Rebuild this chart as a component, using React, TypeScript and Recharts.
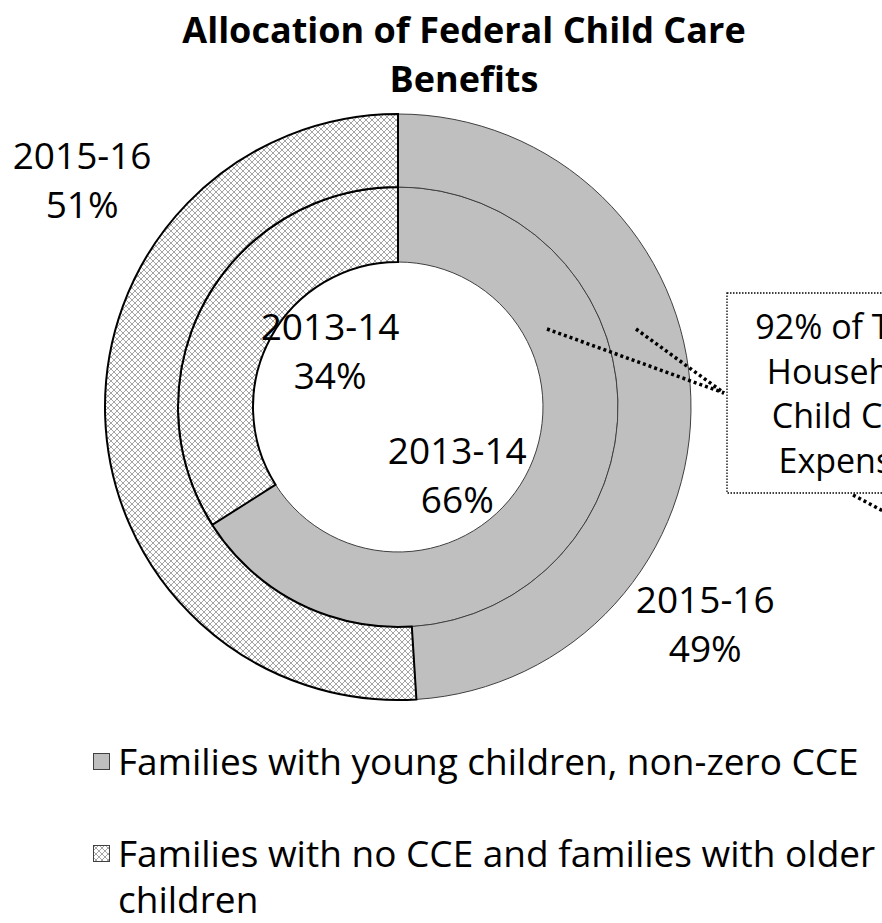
import React from 'react';
import { PieChart, Pie, Cell } from 'recharts';

// categories and values (percent of benefits)
const categories = [
  'Families with young children, non-zero CCE',
  'Families with no CCE and families with older children',
];
const years = ['2013-14', '2015-16'];
const values2013 = [66, 34];
const values2015 = [49, 51];
const calloutLines = ['92% of Total', 'Household', 'Child Care', 'Expenses'];

const innerData = categories.map((name, i) => ({ name, value: values2013[i], year: years[0] }));
const outerData = categories.map((name, i) => ({ name, value: values2015[i], year: years[1] }));

const FONT = '"Open Sans", "Noto Sans", sans-serif';
const CX = 398;
const CY = 407;
const RAD = Math.PI / 180;

// labels were moved by hand in the original: angle shift from slice mid, radius
const outerLabelPos = [
  { shift: -37, r: 376 },
  { shift: -37.5, r: 389 },
];
const innerLabelPos = [
  { shift: -20, r: 90 },
  { shift: -10.7, r: 88 },
];

const fills = ['#BFBFBF', 'url(#hatch)'];
const strokes = ['#404040', '#000000'];
const strokeWidths = [1, 2];

const makeLabel = (pos: { shift: number; r: number }[]) => (props: any) => {
  const { cx, cy, midAngle, index, payload, value } = props;
  const p = pos[index];
  const a = (midAngle + p.shift) * RAD;
  const x = cx + p.r * Math.cos(a);
  const y = cy - p.r * Math.sin(a);
  return (
    <text x={x} y={y} textAnchor="middle" fontFamily={FONT} fontSize={37} fill="#000">
      <tspan x={x} dy={-11}>{payload.year}</tspan>
      <tspan x={x} dy={49}>{value}%</tspan>
    </text>
  );
};

const App: React.FC = () => {
  return (
    <div style={{ position: 'absolute', left: 0, top: 0, width: 882, height: 923, background: '#fff', overflow: 'hidden' }}>
      <svg width={0} height={0} style={{ position: 'absolute' }}>
        <defs>
          <pattern id="hatch" patternUnits="userSpaceOnUse" width={6} height={6}>
            <rect width={6} height={6} fill="#fff" />
            <path d="M0,0 L6,6 M6,0 L0,6" stroke="#9a9a9a" strokeWidth={0.9} />
          </pattern>
        </defs>
      </svg>

      <div
        style={{
          position: 'absolute', left: 114, top: 5, width: 700, textAlign: 'center',
          fontFamily: FONT, fontWeight: 700, fontSize: 36, lineHeight: '49px', color: '#000',
        }}
      >
        Allocation of Federal Child Care<br />Benefits
      </div>

      <div style={{ position: 'absolute', left: 0, top: 0 }}>
        <PieChart width={882} height={720} margin={{ top: 0, right: 0, bottom: 0, left: 0 }}>
          <Pie
            data={innerData}
            dataKey="value"
            cx={CX}
            cy={CY}
            innerRadius={145}
            outerRadius={220}
            startAngle={90}
            endAngle={-270}
            isAnimationActive={false}
            labelLine={false}
            label={makeLabel(innerLabelPos)}
          >
            {innerData.map((d, i) => (
              <Cell key={`in-${i}`} fill={fills[i]} stroke={strokes[i]} strokeWidth={strokeWidths[i]} />
            ))}
          </Pie>
          <Pie
            data={outerData}
            dataKey="value"
            cx={CX}
            cy={CY}
            innerRadius={220}
            outerRadius={293}
            startAngle={90}
            endAngle={-270}
            isAnimationActive={false}
            labelLine={false}
            label={makeLabel(outerLabelPos)}
          >
            {outerData.map((d, i) => (
              <Cell key={`out-${i}`} fill={fills[i]} stroke={strokes[i]} strokeWidth={strokeWidths[i]} />
            ))}
          </Pie>
        </PieChart>
      </div>

      {/* callout annotation, cut off at the right edge as in the original */}
      <svg width={882} height={720} style={{ position: 'absolute', left: 0, top: 0, pointerEvents: 'none' }}>
        <g stroke="#000" strokeWidth={3.5} strokeDasharray="3 3" fill="none">
          <line x1={547} y1={329} x2={724} y2={393} />
          <line x1={636} y1={329} x2={724} y2={393} />
          <line x1={853} y1={495} x2={900} y2={520} />
        </g>
        <rect x={727} y={293} width={300} height={200} fill="#fff" stroke="#000" strokeWidth={1.3} strokeDasharray="1.5 1.5" />
        <g fontFamily={FONT} fontSize={34} textAnchor="middle" fill="#000">
          {calloutLines.map((t, i) => (
            <text key={t} x={853} y={339 + i * 44.5}>{t}</text>
          ))}
        </g>
      </svg>

      {/* legend */}
      <div style={{ position: 'absolute', left: 90, top: 738, width: 792, fontFamily: FONT, fontSize: 37, color: '#000' }}>
        {categories.map((c, i) => (
          <div key={c} style={{ display: 'flex', alignItems: 'flex-start', marginBottom: i === 0 ? 46 : 0 }}>
            <svg width={28} height={46} style={{ flex: 'none' }}>
              <rect x={3.5} y={15.5} width={16} height={16} fill={fills[i]} stroke="#404040" strokeWidth={1} />
            </svg>
            <div style={{ lineHeight: '46px' }}>{c}</div>
          </div>
        ))}
      </div>
    </div>
  );
};

export default App;
